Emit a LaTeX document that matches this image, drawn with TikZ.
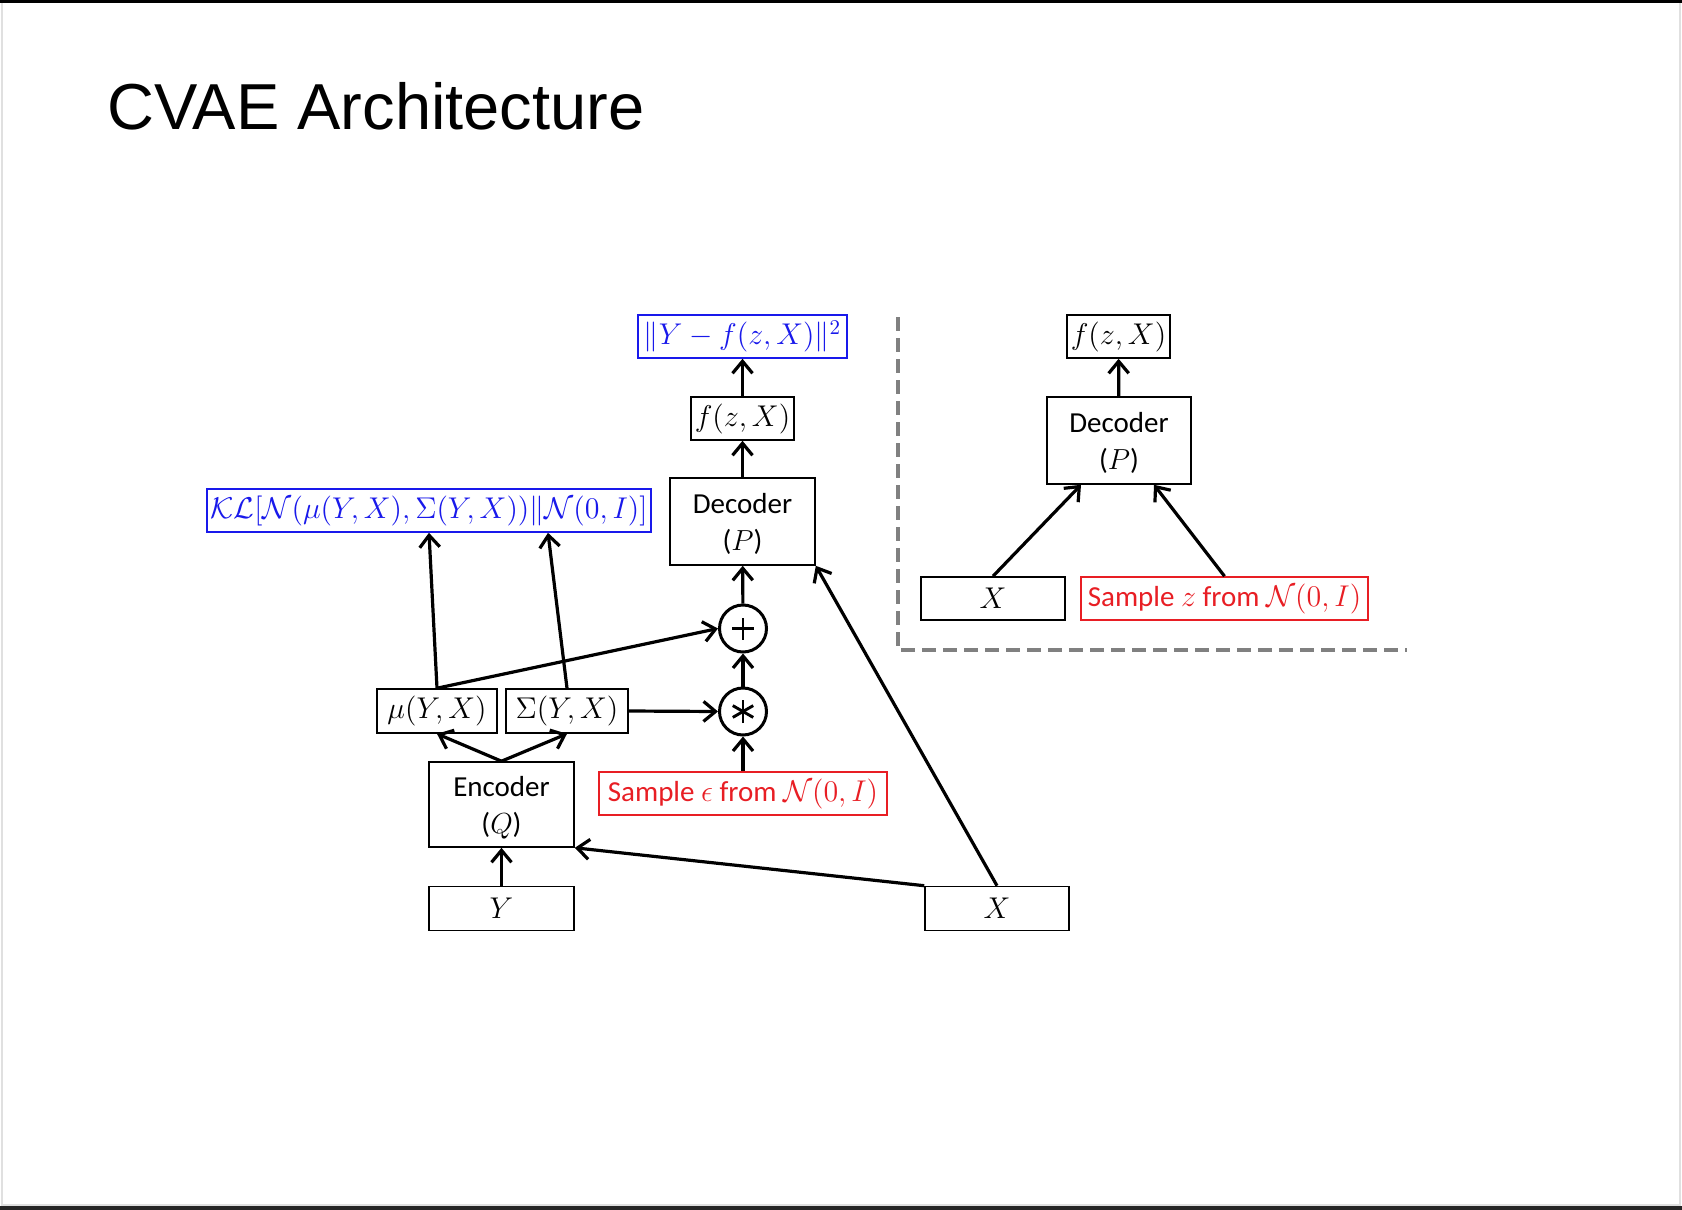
\RequirePackage{fix-cm}
\documentclass[tikz,border=0pt]{standalone}
\usepackage[no-math]{fontspec}
\setmainfont{Carlito}
\newfontfamily\titlefont{Liberation Sans}
\usepackage{amsmath}
\usetikzlibrary{arrows.meta}
\definecolor{lossblue}{RGB}{25,25,235}
\definecolor{samplered}{RGB}{232,30,36}
\definecolor{dashgray}{RGB}{128,128,128}
\newcommand{\mth}[1]{{\fontsize{15}{17}\selectfont$#1$}}
\newcommand{\twolines}[2]{\raisebox{-1.8pt}[\height][\depth]{\begin{tabular}{@{}c@{}}#1\\[0.5pt]#2\end{tabular}}}
\begin{document}
\begin{tikzpicture}[x=0.5pt,y=-0.5pt,
  box/.style={draw, line width=0.8pt, inner sep=0pt, font=\fontsize{14.5}{18}\selectfont, align=center},
  bluebox/.style={box, draw=lossblue, text=lossblue},
  redbox/.style={box, draw=samplered, text=samplered},
  opnode/.style={circle, draw, line width=1.5pt, minimum size=23.5pt, inner sep=0pt},
  sym/.style={line width=1.45pt},
  arr/.style={line width=1.6pt, -{Straight Barb[length=6pt,width=10pt]}},
]
\useasboundingbox (0,0) rectangle (1682,1210);
\fill[white] (0,0) rectangle (1682,1210);
% frame
\fill[black] (0,0) rectangle (1682,3);
\fill[black!85] (0,1206) rectangle (1682,1210);
\draw[black!12, line width=1pt] (1.5,3) -- (1.5,1206);
\draw[black!12, line width=1pt] (1679.5,3) -- (1679.5,1206);
\draw[black!12, line width=1pt] (1.5,1205) -- (1679.5,1205);
% title
\node[anchor=base west, inner sep=0pt, font=\titlefont\fontsize{32.5}{39}\selectfont] (title) at (107,129) {CVAE Architecture};
% left diagram
\node[bluebox, minimum width=104.5pt, minimum height=21.5pt] (loss) at (742.5,336.5) {\mth{\|Y-f(z,X)\|^2}};
\node[box, minimum width=51.5pt, minimum height=21.5pt] (f1) at (742.5,418.5) {\mth{f(z,X)}};
\node[box, minimum width=72.5pt, minimum height=43.5pt] (dec1) at (742.5,521.5) {\twolines{Decoder}{($P$)}};
\node[opnode] (plus) at (743,628.5) {};
\node[opnode] (star) at (743,711.5) {};
\draw[sym] ([xshift=-5.5pt]plus.center) -- ([xshift=5.5pt]plus.center);
\draw[sym] ([yshift=-5.5pt]plus.center) -- ([yshift=5.5pt]plus.center);
\draw[sym] ([yshift=-5.8pt]star.center) -- ([yshift=5.8pt]star.center);
\draw[sym] ([shift={(30:5.9pt)}]star.center) -- ([shift={(210:5.9pt)}]star.center);
\draw[sym] ([shift={(150:5.9pt)}]star.center) -- ([shift={(330:5.9pt)}]star.center);
\node[redbox, minimum width=144pt, minimum height=21.5pt] (eps) at (743,793.5) {Sample \mth{\epsilon} from \mth{\mathcal{N}(0,I)}};
\node[box, minimum width=60pt, minimum height=22pt] (mu) at (437,711) {\mth{\mu(Y,X)}};
\node[box, minimum width=61pt, minimum height=22pt] (sig) at (567,711) {\mth{\Sigma(Y,X)}};
\node[box, minimum width=72.5pt, minimum height=42.5pt] (enc) at (501.5,804.5) {\twolines{Encoder}{($Q$)}};
\node[box, minimum width=72.5pt, minimum height=22pt] (Y) at (501.5,908.5) {\mth{Y}};
\node[box, minimum width=72pt, minimum height=22pt] (X) at (997,908.5) {\mth{X}};
\node[bluebox, minimum width=222pt, minimum height=21.5pt] (KL) at (429,510.5) {\mth{\mathcal{KL}[\mathcal{N}(\mu(Y,X),\Sigma(Y,X))\|\mathcal{N}(0,I)]}};
% right diagram
\node[box, minimum width=51.5pt, minimum height=21.5pt] (f2) at (1118.5,336.5) {\mth{f(z,X)}};
\node[box, minimum width=72pt, minimum height=43.5pt] (dec2) at (1119,440.5) {\twolines{Decoder}{($P$)}};
\node[box, minimum width=72pt, minimum height=21.5pt] (X2) at (993,598.5) {\mth{X}};
\node[redbox, minimum width=143.5pt, minimum height=21.5pt] (z) at (1224.5,598.5) {Sample \mth{z} from \mth{\mathcal{N}(0,I)}};
% dashed separator
\draw[dashgray, line width=1.7pt, dash pattern=on 7pt off 3.5pt] (898,317) -- (898,650) -- (1407,650);
% connectors left
\draw[arr] (f1) -- (loss);
\draw[arr] (dec1) -- (f1);
\draw[arr] (plus) -- (dec1);
\draw[arr] (star) -- (plus);
\draw[arr] (eps) -- (star);
\draw[arr] (sig.east) -- (star.west);
\draw[arr] (mu.north) -- (plus.west);
\draw[arr] (mu.north) -- (KL.south);
\draw[arr] (sig.north) -- ([xshift=59.5pt]KL.south);
\draw[arr] (enc.north) -- (mu.south);
\draw[arr] (enc.north) -- (sig.south);
\draw[arr] (Y) -- (enc);
\draw[arr] (X.north west) -- (enc.south east);
\draw[arr] (X.north) -- (dec1.south east);
% connectors right
\draw[arr] (dec2) -- (f2);
\draw[arr] (X2.north) -- ([xshift=-19pt]dec2.south);
\draw[arr] (z.north) -- ([xshift=17.5pt]dec2.south);
\end{tikzpicture}
\end{document}
